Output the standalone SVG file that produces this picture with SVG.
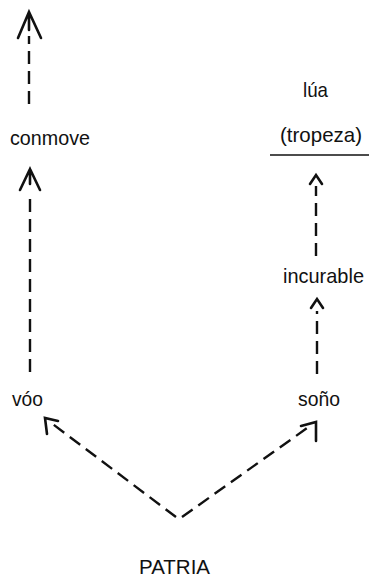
<svg xmlns="http://www.w3.org/2000/svg" width="369" height="578" viewBox="0 0 369 578">
  <style>
    .lbl { font-family: "Liberation Sans", Arial, sans-serif; font-size: 21px; fill: #111; }
    .dash { fill: none; stroke: #111; stroke-width: 2.4; stroke-dasharray: 13 7; stroke-linecap: butt; }
    .head { fill: none; stroke: #111; stroke-width: 2.6; stroke-linecap: round; stroke-linejoin: miter; }
  </style>
  <rect width="369" height="578" fill="#fff"/>

  <!-- labels -->
  <g id="n-conmove"><text class="lbl" x="10" y="145" textLength="80" lengthAdjust="spacingAndGlyphs">conmove</text></g>
  <g id="n-voo"><text class="lbl" x="12" y="406" textLength="31" lengthAdjust="spacingAndGlyphs">vóo</text></g>
  <g id="n-lua"><text class="lbl" x="303" y="97" textLength="25" lengthAdjust="spacingAndGlyphs">lúa</text></g>
  <g id="n-tropeza">
    <text class="lbl" x="280" y="142" textLength="82" lengthAdjust="spacingAndGlyphs">(tropeza)</text>
    <line x1="270" y1="155" x2="369" y2="155" stroke="#111" stroke-width="1.6"/>
  </g>
  <g id="n-incurable"><text class="lbl" x="283" y="283" textLength="81" lengthAdjust="spacingAndGlyphs">incurable</text></g>
  <g id="n-sono"><text class="lbl" x="298" y="406" textLength="42" lengthAdjust="spacingAndGlyphs">soño</text></g>
  <g id="n-patria"><text class="lbl" x="139" y="574" textLength="71" lengthAdjust="spacingAndGlyphs">PATRIA</text></g>

  <!-- connectors -->
  <g id="connectors">
    <!-- left column: vóo -> conmove -> up -->
    <line class="dash" x1="30" y1="372" x2="30" y2="194"/>
    <path class="head" d="M20 190 L30 169 L40 190 M30 169 L30 184"/>
    <line class="dash" x1="29" y1="104" x2="29" y2="36"/>
    <path class="head" d="M18 38 L29 12 L41 38 M29 12 L29 30"/>

    <!-- right column: soño -> incurable -> (tropeza) -->
    <line class="dash" x1="317" y1="374" x2="317" y2="311"/>
    <path class="head" d="M311 308 L317 299 L323 308"/>
    <line class="dash" x1="316" y1="256" x2="316" y2="186"/>
    <path class="head" d="M310 184 L316 175 L322 184"/>

    <!-- PATRIA -> vóo, PATRIA -> soño -->
    <line class="dash" x1="176" y1="517" x2="50" y2="422"/>
    <path class="head" d="M47 434 L45 418 L58 421"/>
    <line class="dash" x1="182" y1="517" x2="310" y2="426"/>
    <path class="head" d="M301 426 L316 422 L316 441"/>
  </g>
</svg>
